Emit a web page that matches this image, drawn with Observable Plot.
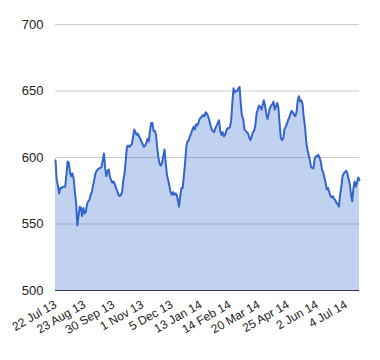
<!DOCTYPE html>
<html>
<head>
<meta charset="utf-8">
<script src="https://cdn.jsdelivr.net/npm/d3@7"></script>
<script src="https://cdn.jsdelivr.net/npm/@observablehq/plot@0.6"></script>
<style>
  html, body { margin: 0; padding: 0; background: #fff; }
  #chart svg { display: block; }
</style>
</head>
<body>
<div id="chart"></div>
<script>
// Tick labels (one every 24 trading days)
const tickLabels = ["22 Jul 13", "23 Aug 13", "30 Sep 13", "1 Nov 13", "5 Dec 13", "13 Jan 14",
  "14 Feb 14", "20 Mar 14", "25 Apr 14", "2 Jun 14", "4 Jul 14"];
const tickStep = 24;

// Y axis ticks
const yTicks = [500, 550, 600, 650, 700];

// Daily closing values
const values = [
  598,583,579,573,577,577,578,578,578,587,
  597,596,589,586,588,584,574,566,549,556,
  563,562,556,562,558,559,565,567,568,572,
  574,579,583,588,590,591,592,592,593,598,
  603,592,586,590,591,585,583,581,582,580,
  577,575,572,571,572,574,583,588,598,608,
  609,608,609,610,615,621,619,617,618,616,
  614,612,610,608,609,611,614,612,620,626,
  626,620,620,617,607,600,595,594,596,601,
  606,596,587,583,579,574,572,574,572,573,
  572,568,563,571,577,577,586,596,608,612,
  613,616,618,621,623,621,625,624,626,629,
  630,631,632,631,634,633,631,628,624,621,
  620,619,622,624,626,628,620,617,619,616,
  617,620,622,622,623,627,641,652,649,650,
  650,652,653,640,631,629,621,620,619,618,
  615,613,616,619,620,624,633,636,639,638,
  636,639,643,639,633,629,633,637,639,640,
  642,636,638,641,638,626,615,613,614,621,
  623,625,628,630,633,635,634,632,631,634,
  643,646,642,643,640,630,623,612,606,602,
  598,593,592,592,599,601,601,602,600,597,
  591,589,585,581,576,577,574,571,570,571,
  569,568,566,565,563,572,578,586,588,589,
  590,588,584,580,572,567,577,582,578,581,
  585,583
];

const data = values.map((v, i) => ({i, v}));
const tickIdx = tickLabels.map((_, k) => k * tickStep);
const labelOf = new Map(tickIdx.map((t, k) => [t, tickLabels[k]]));

const chart = Plot.plot({
  width: 380,
  height: 360,
  marginLeft: 55,
  marginRight: 21,
  marginTop: 24,
  marginBottom: 70,
  style: {fontFamily: "'Liberation Sans', Arial, sans-serif", fontSize: "12px", color: "#222", background: "#fff"},
  x: {type: "linear", domain: [0, values.length - 1], ticks: tickIdx, label: null},
  y: {domain: [yTicks[0], yTicks[yTicks.length - 1]], ticks: yTicks, label: null},
  marks: [
    Plot.ruleY(yTicks.slice(1), {stroke: "#cccccc", strokeWidth: 1}),
    Plot.areaY(data, {x: "i", y: "v", fill: "#3366cc", fillOpacity: 0.3, clip: true}),
    Plot.lineY(data, {x: "i", y: "v", stroke: "#3366cc", strokeWidth: 2}),
    Plot.ruleY([yTicks[0]], {stroke: "#333333", strokeWidth: 1}),
    Plot.axisY({ticks: yTicks, tickSize: 0, tickPadding: 12, fontSize: 13, label: null}),
    Plot.axisX({ticks: tickIdx, tickSize: 0, tickPadding: 13, tickRotate: -30,
      tickFormat: d => labelOf.get(d), fontSize: 12, label: null})
  ]
});
document.getElementById("chart").appendChild(chart);
</script>
</body>
</html>
